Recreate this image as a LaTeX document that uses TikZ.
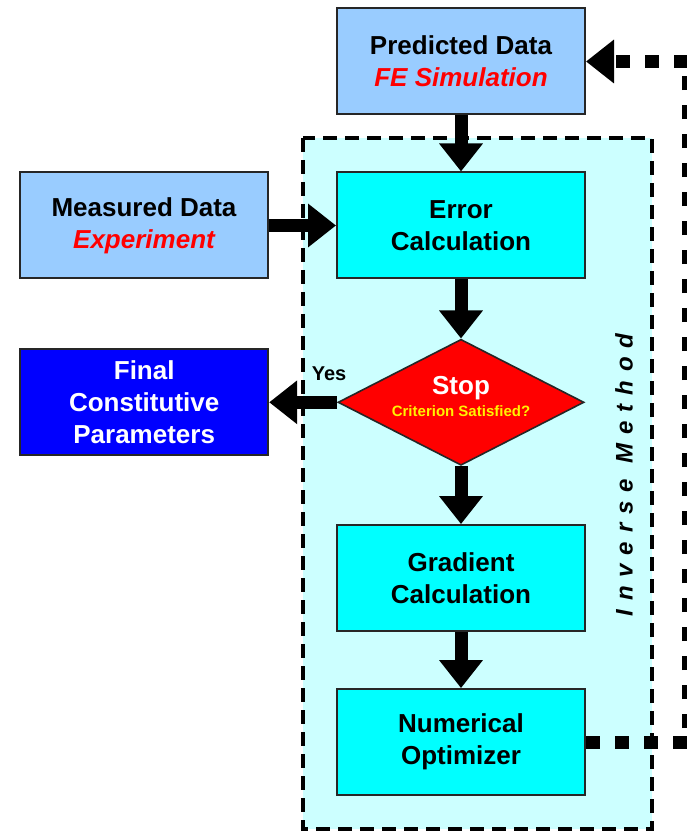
\documentclass[tikz,border=0pt]{standalone}
\usepackage{fontspec}
\setmainfont{Liberation Sans}
\usepackage{xcolor}
\usetikzlibrary{shapes.geometric,arrows.meta,positioning}

\definecolor{datablue}{HTML}{99CCFF}
\definecolor{stepcyan}{HTML}{00FFFF}
\definecolor{regioncyan}{HTML}{CCFFFF}

\begin{document}
\begin{tikzpicture}[
    x=0.5pt, y=-0.5pt,
    box/.style={rectangle, draw=black!85, line width=1pt, align=center, fill=stepcyan, minimum width=124pt, minimum height=53pt, font=\fontsize{13}{16}\selectfont\bfseries},
    decision/.style={diamond, draw=black!85, line width=0.8pt, fill=red, aspect=1.95, inner sep=0pt, minimum width=123pt, minimum height=63pt},
    arrow/.style={-{Triangle[width=21pt,length=14pt]}, line width=6.5pt},
    feedback/.style={arrow, dash pattern=on 7pt off 7.5pt},
    region/.style={draw, fill=regioncyan, line width=2pt, dash pattern=on 7pt off 4pt}
]
\useasboundingbox (0,0) rectangle (686,833);

% Inverse method region
\draw[region] (303,138) rectangle (652,829);
\node[rotate=90, font=\fontsize{12}{14}\selectfont\bfseries\itshape\addfontfeature{LetterSpace=37}] (inv) at (624,475) {Inverse Method};

% Nodes
\node[box, fill=datablue] (pred) at (461,61.5) {Predicted Data\\\textcolor{red}{\itshape FE Simulation}};
\node[box, below=28pt of pred] (error) {Error\\Calculation};
\node[box, fill=datablue, left=33.5pt of error] (meas) {Measured Data\\\textcolor{red}{\itshape Experiment}};
\node[decision, below=29.5pt of error] (stop) {};
\node[align=center, font=\bfseries] (stoptxt) at ([yshift=3pt]stop.center) {{\fontsize{13}{16}\selectfont\textcolor{white}{Stop}}\\[-1pt]{\fontsize{7.5}{9}\selectfont\textcolor{yellow}{Criterion Satisfied?}}};
\node[box, fill=blue, text=white, left=34pt of stop] (final) {Final\\Constitutive\\Parameters};
\node[box, below=29pt of stop] (grad) {Gradient\\Calculation};
\node[box, below=28pt of grad] (opt) {Numerical\\Optimizer};
\coordinate (fb) at (688,0);

% Edges
\draw[arrow] (pred) -- (error);
\draw[arrow] (meas) -- (error);
\draw[arrow] (error) -- (stop);
\draw[arrow] (stop) -- node[pos=0.12, above=4pt, font=\fontsize{10}{12}\selectfont\bfseries] {Yes} (final);
\draw[arrow] (stop) -- (grad);
\draw[arrow] (grad) -- (opt);
\draw[feedback] (opt.east) -- (opt.east -| fb) -- (pred.east -| fb) -- (pred.east);

\end{tikzpicture}
\end{document}
